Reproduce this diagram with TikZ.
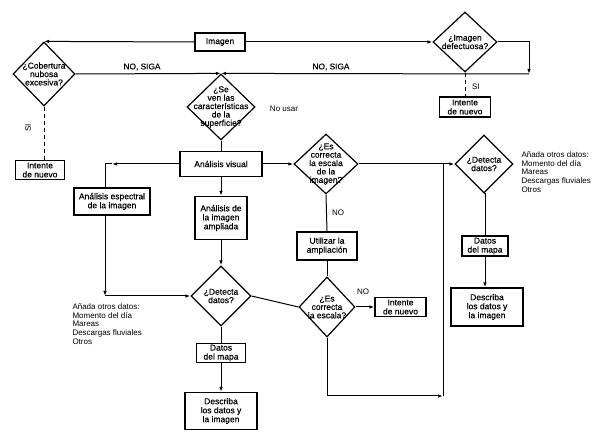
\documentclass[tikz,border=0pt]{standalone}
\usepackage{fontspec}
\setmainfont{Liberation Sans}
\newfontfamily\bxf[FakeBold=0.4]{Liberation Sans}
\usetikzlibrary{shapes.geometric,arrows.meta}
\begin{document}
\begin{tikzpicture}[x=1pt,y=-1pt,
  line width=1pt,
  bx/.style={draw,line width=1.2pt,inner sep=0pt,align=center,font=\bxf\fontsize{8.5}{9}\selectfont},
  dia/.style={draw,diamond,line width=1.2pt,inner sep=0pt},
  dtx/.style={align=center,inner sep=0pt,font=\bxf\fontsize{8.5}{8.4}\selectfont},
  lab/.style={inner sep=0pt,font=\fontsize{8}{8.8}\selectfont},
  blab/.style={inner sep=0pt,font=\bxf\fontsize{8.3}{9}\selectfont},
  arr/.style={-{Latex[length=5pt,width=3.4pt]}},
  dsh/.style={dash pattern=on 4pt off 3pt}
]
\useasboundingbox (0,0) rectangle (600,435);

% boxes
\node[bx,minimum width=50pt,minimum height=18pt] (img) at (220,42) {Imagen};
\node[bx,minimum width=49pt,minimum height=19pt] (intL) at (40,170) {Intente\\de nuevo};
\node[bx,minimum width=51pt,minimum height=20pt] (intR) at (465,107) {Intente\\de nuevo};
\node[bx,minimum width=82pt,minimum height=25pt] (vis) at (221,164) {Análisis visual};
\node[bx,minimum width=76pt,minimum height=27pt] (esp) at (112,201.5) {Análisis espectral\\de la imagen};
\node[bx,minimum width=52pt,minimum height=43pt] (amp) at (221,218) {Análisis de\\la imagen\\ampliada};
\node[bx,minimum width=49pt,minimum height=19pt] (dat1) at (221,353) {Datos\\del mapa};
\node[bx,minimum width=72pt,minimum height=37pt] (des1) at (221,411) {Describa\\los datos y\\la imagen};
\node[bx,minimum width=60pt,minimum height=28pt] (uti) at (327,246) {Utilizar la\\ampliación};
\node[bx,minimum width=51pt,minimum height=19pt] (intM) at (400.5,307) {Intente\\de nuevo};
\node[bx,minimum width=46pt,minimum height=20pt] (dat2) at (485,246) {Datos\\del mapa};
\node[bx,minimum width=72pt,minimum height=38pt] (des2) at (487,307) {Describa\\los datos y\\la imagen};

% diamonds
\node[dia,minimum width=62pt,minimum height=64pt] (cob) at (44,74) {};
\node[dtx] (cobt) at (cob) {¿Cobertura\\nubosa\\excesiva?};
\node[dia,minimum width=64pt,minimum height=60pt] (defect) at (465,42) {};
\node[dtx] (defectt) at (defect) {¿Imagen\\defectuosa?};
\node[dia,minimum width=68pt,minimum height=66pt] (sever) at (221,107) {};
\node[dtx] (severt) at (sever) {¿Se\\ven las\\características\\de la\\superficie?};
\node[dia,minimum width=64pt,minimum height=60pt] (esc1) at (326,164) {};
\node[dtx] (esc1t) at (esc1) {¿Es\\correcta\\la escala\\de la\\imagen?};
\node[dia,minimum width=60pt,minimum height=60pt] (det1) at (221,296) {};
\node[dtx] (det1t) at (det1) {¿Detecta\\datos?};
\node[dia,minimum width=56pt,minimum height=60pt] (esc2) at (327,307) {};
\node[dtx] (esc2t) at (esc2) {¿Es\\correcta\\la escala?};
\node[dia,minimum width=58pt,minimum height=58pt] (det2) at (484,164) {};
\node[dtx] (det2t) at (det2) {¿Detecta\\datos?};

% labels
\node[blab] (ns1) at (142,67) {NO, SIGA};
\node[blab] (ns2) at (331,67) {NO, SIGA};
\node[lab] (nousar) at (284,109) {No usar};
\node[lab,rotate=90] (siL) at (28,128) {SI};
\node[lab] (siR) at (476,87) {SI};
\node[lab] (no1) at (338,213) {NO};
\node[lab] (no2) at (363,292) {NO};
\node[lab,anchor=north west,align=left] (addL) at (72,303) {Añada otros datos:\\Momento del día\\Mareas\\Descargas fluviales\\Otros};
\node[lab,anchor=north west,align=left] (addR) at (521,151) {Añada otros datos:\\Momento del día\\Mareas\\Descargas fluviales\\Otros};

% connectors
\draw[arr] (img.west) -- (cob.north);
\draw[arr] (img.east) -- (defect.west);
\coordinate (cR) at (529,74);
\draw[arr] (defect.east) -| (cR);
\draw[arr] (cR) -- (sever.north);
\draw[arr] (cob.east) -- (sever.north);
\draw[dsh] (defect.south) -- (intR.north);
\draw[dsh] (cob.south) -- (cob.south |- intL.north);
\draw (sever.south) -- (vis.north);
\coordinate (c1) at (105,164);
\coordinate (c1a) at (112,164);
\draw[arr] (vis.west) -- (c1a);
\draw (c1a) -- (c1) -- (c1 |- esp.north);
\coordinate (c2) at (105,296);
\draw[arr] (c1 |- esp.south) -- (c2);
\draw[arr] (c2) -- (det1.west);
\draw[arr] (vis.south) -- (amp.north);
\draw[arr] (amp.south) -- (det1.north);
\draw (det1.south) -- (dat1.north);
\draw[arr] (dat1.south) -- (des1.north);
\draw (det1.east) -- (esc2.west);
\draw[arr] (vis.east) -- (esc1.west);
\draw (esc1.south) -- (uti.north);
\draw (uti.south) -- (esc2.north);
\draw[arr] (esc2.east) -- (intM.west);
\coordinate (c3) at (443,396);
\draw[arr] (esc2.south) |- (c3);
\draw (c3) -- (c3 |- esc1.east);
\draw[arr] (esc1.east) -- (det2.west);
\draw (det2.south) -- (det2.south -| dat2.north) -- (dat2.north);
\draw[arr] (dat2.south) -- (dat2.south |- des2.north);
\end{tikzpicture}
\end{document}
